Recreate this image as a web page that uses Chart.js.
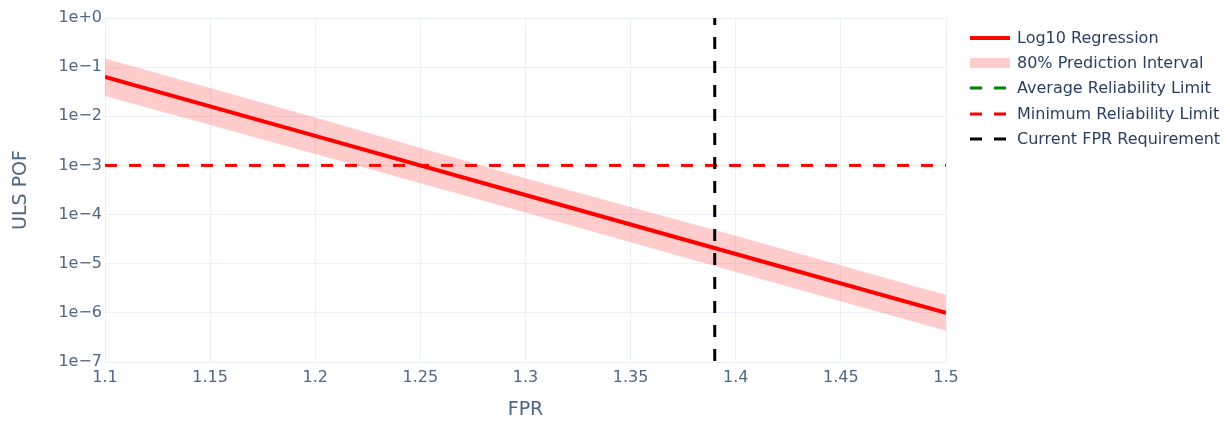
<!DOCTYPE html>
<html lang="en">
<head>
<meta charset="UTF-8">
<title>ULS POF vs FPR</title>
<style>
  html, body { margin: 0; padding: 0; background: #fff; }
  #box { width: 1230px; height: 422px; position: relative; }
</style>
</head>
<body>
<div id="box"><canvas id="grafico" width="1230" height="422"></canvas></div>

<script src="https://cdn.jsdelivr.net/npm/chart.js"></script>
<script>
// dados
const fpr = [1.1, 1.2, 1.3, 1.4, 1.5]
const regressao = [0.063, 0.004, 2.5e-4, 1.58e-5, 1.0e-6]
const limiteSup = [0.15, 9.5e-3, 5.5e-4, 3.7e-5, 2.3e-6]
const limiteInf = [0.026, 1.7e-3, 1.1e-4, 6.8e-6, 4.3e-7]
const limiteMinimo = 1e-3
const fprRequisito = 1.39
const xTicks = [1.1, 1.15, 1.2, 1.25, 1.3, 1.35, 1.4, 1.45, 1.5]
const yTicks = [1e-7, 1e-6, 1e-5, 1e-4, 1e-3, 1e-2, 1e-1, 1]
const yLabels = ['1e\u22127', '1e\u22126', '1e\u22125', '1e\u22124', '1e\u22123', '1e\u22122', '1e\u22121', '1e+0']

const corTexto = '#2a3f5f'
const corEixo = '#506784'
const corGrade = '#ebf0f8'
const fonte = "'DejaVu Sans', Verdana, sans-serif"

const pts = (xs, ys) => xs.map((x, i) => ({ x: x, y: ys[i] }))

const ctx = document.getElementById('grafico')

// legenda desenhada à mão, no estilo do plotly
const legendaPlotly = {
  id: 'legendaPlotly',
  afterDraw(chart) {
    const c = chart.ctx
    const x0 = 970, y0 = 38, passo = 25.2
    chart.data.datasets.forEach((ds, i) => {
      if (!ds.label) return
      const y = Math.round(y0 + i * passo)
      c.save()
      if (ds.legendaFaixa) {
        c.fillStyle = ds.backgroundColor
        c.fillRect(x0, y - 5, 40, 10)
      } else {
        c.strokeStyle = ds.borderColor
        c.lineWidth = ds.borderWidth
        c.setLineDash(ds.borderDash && ds.borderDash.length ? [12, 12] : [])
        c.beginPath()
        c.moveTo(x0, y)
        c.lineTo(x0 + 40, y)
        c.stroke()
      }
      c.setLineDash([])
      c.fillStyle = corTexto
      c.font = '16px ' + fonte
      c.textBaseline = 'middle'
      c.fillText(ds.label, x0 + 47, y + 1)
      c.restore()
    })
  }
}

new Chart(ctx, {
  type: 'line',
  data: {
    datasets: [
      {
        label: 'Log10 Regression',
        data: pts(fpr, regressao),
        borderColor: '#ff0000',
        borderWidth: 4,
        pointRadius: 0,
        fill: false,
        order: 1
      },
      {
        label: '80% Prediction Interval',
        data: pts(fpr, limiteSup),
        borderColor: 'rgba(0,0,0,0)',
        backgroundColor: 'rgba(255,0,0,0.2)',
        borderWidth: 0,
        pointRadius: 0,
        fill: { target: 5 },
        legendaFaixa: true,
        order: 3
      },
      {
        label: 'Average Reliability Limit',
        data: [],
        borderColor: 'green',
        borderWidth: 3,
        borderDash: [12, 12],
        pointRadius: 0,
        fill: false
      },
      {
        label: 'Minimum Reliability Limit',
        data: pts([1.1, 1.5], [limiteMinimo, limiteMinimo]),
        borderColor: '#ff0000',
        borderWidth: 3,
        borderDash: [12, 12],
        pointRadius: 0,
        fill: false,
        order: 2
      },
      {
        label: 'Current FPR Requirement',
        data: pts([fprRequisito, fprRequisito], [1, 1e-7]),
        borderColor: '#000000',
        borderWidth: 3,
        borderDash: [12, 12],
        borderDashOffset: 5,
        pointRadius: 0,
        fill: false,
        order: 0
      },
      {
        label: '',
        data: pts(fpr, limiteInf),
        borderColor: 'rgba(0,0,0,0)',
        borderWidth: 0,
        pointRadius: 0,
        fill: false,
        order: 3
      }
    ]
  },
  options: {
    responsive: false,
    animation: false,
    layout: { padding: { top: 18, right: 284, left: 0, bottom: 0 } },
    plugins: {
      legend: { display: false },
      tooltip: { enabled: false }
    },
    scales: {
      x: {
        type: 'linear',
        min: 1.1,
        max: 1.5,
        afterBuildTicks: (axis) => { axis.ticks = xTicks.map(v => ({ value: v })) },
        afterFit: (axis) => { axis.height = 60 },
        grid: { color: corGrade, lineWidth: 1, drawTicks: false },
        border: { display: false },
        ticks: {
          color: corEixo,
          font: { family: fonte, size: 16 },
          padding: 6,
          maxRotation: 0,
          callback: (v) => String(v)
        },
        title: {
          display: true,
          text: 'FPR',
          color: corEixo,
          font: { family: fonte, size: 19 },
          padding: { top: 0, bottom: 1 }
        }
      },
      y: {
        type: 'logarithmic',
        min: 1e-7,
        max: 1,
        afterBuildTicks: (axis) => { axis.ticks = yTicks.map(v => ({ value: v })) },
        afterFit: (axis) => { axis.width = 105 },
        grid: { color: corGrade, lineWidth: 1, drawTicks: false },
        border: { display: false },
        ticks: {
          color: corEixo,
          font: { family: fonte, size: 16 },
          padding: 3,
          callback: (v) => yLabels[yTicks.findIndex(t => Math.abs(Math.log10(t) - Math.log10(v)) < 1e-6)]
        },
        title: {
          display: true,
          text: 'ULS POF',
          color: corEixo,
          font: { family: fonte, size: 19 },
          padding: { top: 10, bottom: 0 }
        }
      }
    }
  },
  plugins: [legendaPlotly]
})
</script>
</body>
</html>
